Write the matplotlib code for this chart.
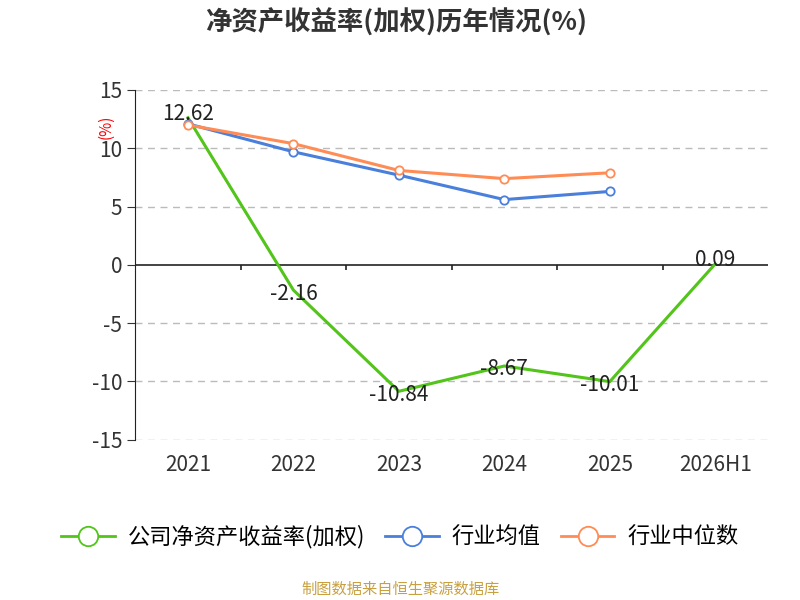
import numpy as np
import matplotlib
matplotlib.use("Agg")
import matplotlib.pyplot as plt
from matplotlib.lines import Line2D

plt.rcParams['font.family'] = ['Noto Sans CJK SC', 'DejaVu Sans']
plt.rcParams['axes.unicode_minus'] = False

years    = ["2021", "2022", "2023", "2024", "2025", "2026H1"]
company  = [12.62, -2.16, -10.84, -8.67, -10.01, 0.09]
ind_avg  = [12.1, 9.7, 7.7, 5.6, 6.3]
ind_med  = [12.0, 10.4, 8.1, 7.4, 7.9]

GREEN, BLUE, ORANGE = "#52c41a", "#4a7fdc", "#ff8c55"

fig = plt.figure(figsize=(8, 6), dpi=100)
ax = fig.add_axes([0.169, 0.267, 0.791, 0.583])

x = np.arange(len(years))
ax.plot(x, company, color=GREEN, lw=2.2, zorder=3)
ax.plot(x[:5], ind_avg, color=BLUE, lw=2.2, marker="o", ms=6,
        mfc="white", mew=1.3, zorder=4)
ax.plot(x[:5], ind_med, color=ORANGE, lw=2.2, marker="o", ms=6,
        mfc="white", mew=1.3, zorder=5)

for xi, v in zip(x, company):
    ax.text(xi, v + (0.3 if v > 0 else -0.3), f"{v:.2f}",
            ha="center", va="center", fontsize=15, color="#222222", zorder=6)

ax.set_xlim(-0.5, len(years) - 0.5)
ax.set_ylim(-15, 15)
ax.set_yticks(np.arange(-15, 16, 5))
ax.tick_params(axis="y", labelsize=15, colors="#333333", length=6)
ax.set_xticks([])
for yv in np.arange(-15, 16, 5):
    if yv != 0:
        ax.axhline(yv, color="#bbbbbb", ls=(0, (5, 4)), lw=1, zorder=1)
ax.axhline(0, color="#222222", lw=1.2, zorder=2)
ax.vlines(np.arange(0.5, len(years) - 0.5, 1), -0.45, 0, color="#222222", lw=1.2)
for xi, lab in zip(x, years):
    ax.text(xi, -17.2, lab, ha="center", va="center", fontsize=15, color="#333333")

for s in ["top", "right", "bottom"]:
    ax.spines[s].set_visible(False)
ax.spines["left"].set_color("#222222")

ax.text(-0.78, 11.8, "(%)", color="red", fontsize=11, rotation=90,
        ha="center", va="center")

fig.text(0.495, 0.962, "净资产收益率(加权)历年情况(%)", ha="center", va="center",
         fontsize=19, fontweight="bold", color="#333333")

handles = [Line2D([], [], color=c, lw=2, marker="o", ms=14, mfc="white", mew=1.3)
           for c in (GREEN, BLUE, ORANGE)]
fig.legend(handles, ["公司净资产收益率(加权)", "行业均值", "行业中位数"],
           loc="center", bbox_to_anchor=(0.5, 0.105), ncol=3, frameon=False,
           fontsize=16, handlelength=2.4, columnspacing=0.9, handletextpad=0.6)

fig.text(0.5, 0.018, "制图数据来自恒生聚源数据库", ha="center", va="center",
         fontsize=11, color="#c8a040")

plt.savefig("out.png", dpi=100)
